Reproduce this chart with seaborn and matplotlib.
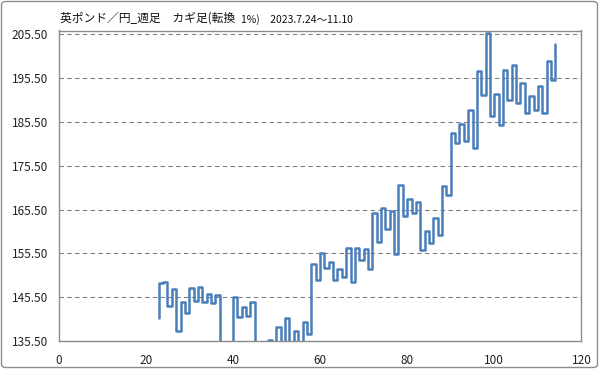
import matplotlib
matplotlib.use('Agg')
import matplotlib.pyplot as plt
from matplotlib.patches import FancyBboxPatch
from matplotlib.ticker import FormatStrFormatter
import seaborn as sns
import numpy as np

# ============================================================
# DATA  (英ポンド／円 週足 カギ足, 転換 1%)
# ============================================================

start_x = 23
start_price = 140.7

# one level per step, x = 23, 24, ... (values below 135.5 are off-chart)
levels = [
    148.7, 148.9, 143.4, 147.4, 137.8, 144.5, 141.9, 147.6, 144.6, 147.8,   # 23-32
    144.4, 146.2, 144.2, 146.1, 131.5, 133.5, 132.0, 145.6, 141.0, 143.2,   # 33-42
    141.3, 144.5, 131.5, 133.5, 132.0, 135.7, 133.0, 138.8, 133.5, 140.8,   # 43-52
    133.5, 137.7, 134.0, 139.8, 137.2, 153.0, 149.5, 155.6, 152.1, 153.5,   # 53-62
    149.5, 151.9, 150.2, 156.8, 149.0, 156.8, 153.9, 156.4, 151.9, 164.8,   # 63-72
    158.1, 165.9, 161.0, 165.2, 155.3, 171.1, 164.1, 167.9, 164.8, 167.3,   # 73-82
    156.3, 160.7, 157.8, 163.5, 159.8, 170.9, 168.9, 183.0, 180.6, 185.0,   # 83-92
    181.2, 188.3, 179.6, 197.1, 191.6, 205.8, 186.9, 191.8, 184.9, 197.3,   # 93-102
    190.5, 198.6, 189.8, 194.4, 187.6, 191.4, 188.2, 193.7, 187.6, 199.4,   # 103-112
    195.2, 203.4,                                                           # 113-114
]
kagi_x = np.arange(start_x, start_x + len(levels))

y_ticks = np.arange(135.5, 206, 10)
x_ticks = np.arange(0, 121, 20)

title_main = '英ポンド／円_週足　カギ足(転換'
title_sub = '1%)　2023.7.24〜11.10'

# ============================================================
# STYLE
# ============================================================

sns.set_style('white')
plt.rcParams['font.family'] = ['Noto Sans CJK JP', 'DejaVu Sans']

LINE = '#4A7EBB'
GRID = '#808080'
AXIS = '#8C8C8C'

fig = plt.figure(figsize=(5.99, 3.69), dpi=100)
ax = fig.add_axes([58.5 / 599, 1 - 341 / 369, (581.5 - 58.5) / 599, (341 - 30.5) / 369])

# kagi path: vertical at each x, then horizontal to the next x
path_x = np.concatenate([[start_x], kagi_x])
path_y = np.concatenate([[start_price], levels])
sns.lineplot(x=path_x, y=path_y, sort=False, estimator=None,
             drawstyle='steps-post', color=LINE, linewidth=1.8, ax=ax)

ax.set_xlim(0, 120)
ax.set_ylim(135.5, 206.4)
ax.set_xticks(x_ticks)
ax.set_yticks(y_ticks)
ax.yaxis.set_major_formatter(FormatStrFormatter('%.2f'))
ax.set_xlabel('')
ax.set_ylabel('')

ax.yaxis.grid(True, linestyle=(0, (4, 3)), color=GRID, linewidth=0.8)
ax.xaxis.grid(False)
ax.set_axisbelow(True)

for s in ax.spines.values():
    s.set_color(AXIS)
    s.set_linewidth(1.0)

ax.tick_params(axis='both', direction='out', length=5, width=0.8, color=AXIS,
               labelsize=8.5, labelcolor='#222222', pad=2.5)
ax.tick_params(axis='x', pad=4)

# title (main part, then the smaller part right after it)
t_main = fig.text(60 / 599, 1 - 18.5 / 369, title_main, fontsize=8.5,
                  va='center', ha='left', color='#111111')
ax.annotate(title_sub, xy=(1, 0.5), xycoords=t_main, xytext=(4, -0.5),
            textcoords='offset points', fontsize=7.5, va='center', ha='left',
            color='#111111', annotation_clip=False)

# chart-area frame
fig.patches.append(FancyBboxPatch((1.5 / 599, 1.5 / 369), 596 / 599, 366 / 369,
                                  boxstyle='round,pad=0,rounding_size=0.008',
                                  transform=fig.transFigure, fill=False,
                                  edgecolor='#8C8C8C', linewidth=1.0))

fig.savefig('out.png', dpi=100, facecolor='white')
